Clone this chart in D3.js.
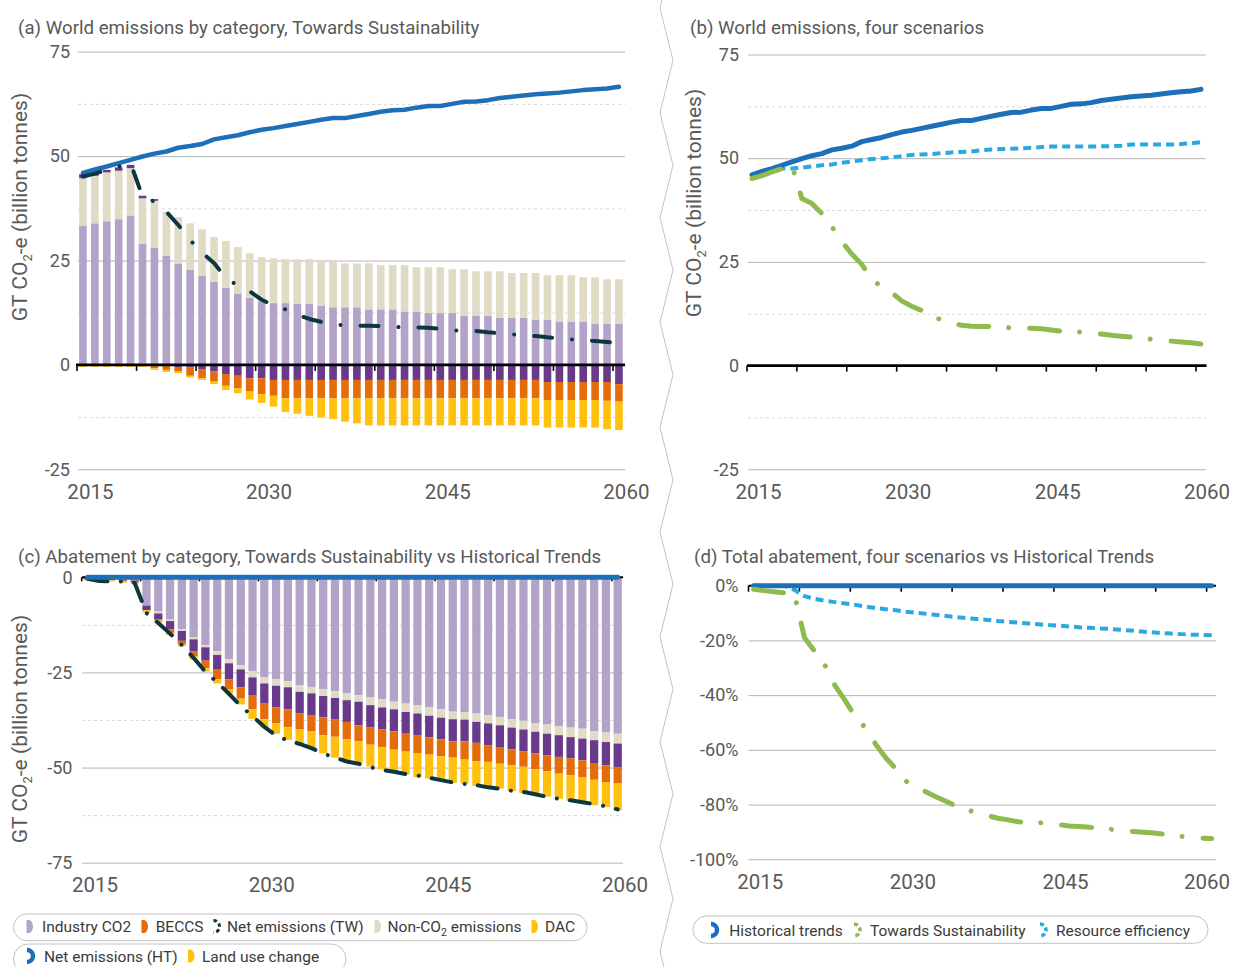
<!DOCTYPE html>
<html>
<head>
<meta charset="utf-8">
<script src="https://cdn.jsdelivr.net/npm/d3@7/dist/d3.min.js"></script>
<style>
html,body{margin:0;padding:0;background:#fff;}
svg{display:block;font-family:Roboto,"Noto Sans",Arial,sans-serif;}
</style>
</head>
<body>
<svg id="chart" width="1238" height="967"></svg>
<script>
// ---------------- categories & ticks ----------------
const years = d3.range(2015, 2061);
const xTickYears = [2015, 2020, 2025, 2030, 2035, 2040, 2045, 2050, 2055, 2060];
const xLabelYears = [2015, 2030, 2045, 2060];
const yTicksAB = [-25, 0, 25, 50, 75];
const yMinorAB = [-12.5, 12.5, 37.5, 62.5];
const yTicksC = [-75, -50, -25, 0];
const yMinorC = [-62.5, -37.5, -12.5];
const yTicksD = [-100, -80, -60, -40, -20, 0];

// ---------------- (a) Towards Sustainability by category (GT CO2-e) ----------------
const industryTW = [33.4,33.9,34.4,34.9,35.8,29.0,28.1,26.2,24.3,22.8,21.4,19.9,18.5,17.1,16.1,15.2,14.8,14.8,14.6,14.6,14.1,13.8,13.8,13.8,13.3,13.3,13.3,12.8,12.8,12.4,12.4,12.4,11.8,11.8,11.8,11.3,11.3,11.3,10.8,10.8,10.4,10.4,10.4,9.9,9.9,9.9];
const nonCO2TW = [11.3,11.4,11.7,11.6,11.3,10.9,11.2,10.5,11.1,11.1,11.1,10.7,11.2,11.1,10.6,10.6,10.7,10.5,10.7,10.7,10.6,10.9,10.5,10.5,11.0,10.6,10.6,11.1,10.6,11.0,11.0,10.5,11.1,10.6,10.6,11.1,10.7,10.7,11.2,10.7,11.1,11.1,10.6,11.1,10.6,10.6];
const landUseTW = [1.0,0.6,0.6,0.8,0.8,0.6,0.4,0.0,-0.5,-0.6,-1.0,-1.6,-2.2,-2.6,-3.2,-3.2,-3.6,-3.6,-3.6,-3.6,-3.6,-3.6,-3.6,-3.6,-3.6,-3.6,-3.6,-3.6,-3.6,-3.6,-3.6,-3.6,-3.6,-3.6,-3.6,-3.6,-3.6,-3.6,-3.6,-4.1,-4.1,-4.1,-4.1,-4.1,-4.1,-4.6];
const beccsTW = [-0.1,-0.1,-0.1,-0.1,-0.1,-0.1,-0.8,-1.2,-1.1,-2.0,-2.2,-2.4,-2.8,-3.0,-3.2,-3.8,-3.8,-4.4,-4.4,-4.4,-4.4,-4.4,-4.4,-4.4,-4.4,-4.4,-4.4,-4.4,-4.4,-4.4,-4.4,-4.4,-4.4,-4.4,-4.4,-4.4,-4.4,-4.4,-4.4,-4.3,-4.3,-4.3,-4.3,-4.3,-4.5,-4.2];
const dacTW = [-0.4,-0.4,-0.4,-0.4,-0.4,-0.4,-0.4,-0.5,-0.4,-0.4,-0.4,-0.6,-1.0,-1.2,-1.9,-2.1,-2.6,-3.3,-3.7,-4.2,-4.6,-5.0,-5.6,-6.0,-6.5,-6.5,-6.5,-6.5,-6.5,-6.5,-6.5,-6.5,-6.5,-6.5,-6.5,-6.5,-6.5,-6.5,-6.5,-6.6,-6.6,-6.6,-6.6,-6.6,-6.8,-6.8];

// ---------------- scenario net emissions (GT CO2-e) ----------------
const netTW = [45.1,45.8,46.7,47.5,48.3,40.3,39.1,36.7,33.5,29.9,26.9,24.4,20.8,19.0,17.6,15.6,14.3,13.3,12.0,11.0,10.3,9.7,9.5,9.4,9.4,9.3,9.1,9.0,9.0,8.9,8.6,8.3,8.2,8.1,7.8,7.6,7.3,7.1,6.9,6.6,6.4,6.1,5.9,5.7,5.5,5.2];
const netHT = [46.0,46.8,47.5,48.3,49.1,49.9,50.6,51.1,52.0,52.4,52.9,54.0,54.5,55.0,55.7,56.3,56.7,57.2,57.7,58.2,58.7,59.1,59.1,59.6,60.1,60.6,61.0,61.1,61.6,62.0,62.0,62.5,63.0,63.1,63.4,63.9,64.2,64.5,64.8,65.0,65.2,65.5,65.8,66.0,66.2,66.6];
const netRE = [46.0,46.3,47.0,47.5,47.5,47.7,48.0,48.3,48.5,48.9,49.2,49.5,49.8,50.0,50.2,50.5,50.8,50.9,51.0,51.2,51.4,51.5,51.6,51.9,52.1,52.2,52.3,52.4,52.5,52.7,52.8,52.8,52.8,52.8,52.8,52.9,52.9,53.0,53.3,53.3,53.3,53.3,53.3,53.4,53.6,53.9];

// ---------------- (c) abatement by category, TW vs HT (GT CO2-e) ----------------
const abIndustry = [-0.2,-0.3,-0.4,-0.5,-0.7,-7.3,-9.0,-11.1,-13.7,-15.8,-17.8,-19.4,-21.6,-23.1,-24.7,-26.3,-26.8,-27.3,-28.3,-28.8,-29.4,-29.9,-30.5,-31.0,-31.6,-32.1,-32.7,-33.2,-33.6,-34.2,-34.7,-35.3,-35.4,-35.8,-36.2,-36.7,-37.3,-37.7,-38.4,-38.7,-39.1,-39.5,-39.8,-40.4,-40.8,-41.1];
const abNonCO2 = [0,0,0,-0.1,-0.1,-0.1,-0.5,-0.4,-0.4,-0.5,-0.6,-1.0,-1.0,-1.1,-1.6,-1.6,-1.7,-1.6,-1.8,-1.7,-1.8,-1.8,-1.8,-1.7,-2.0,-2.1,-2.0,-2.2,-2.2,-2.2,-2.2,-2.0,-2.0,-2.2,-2.2,-2.2,-2.2,-2.3,-2.2,-2.4,-2.4,-2.5,-2.6,-2.4,-2.5,-2.6];
const abLandUse = [-0.2,-0.3,-0.3,-0.3,-0.4,-1.2,-1.5,-2.2,-2.6,-3.1,-3.5,-3.7,-4.2,-4.7,-4.8,-5.3,-5.7,-5.8,-5.7,-5.7,-5.6,-5.7,-5.7,-6.2,-5.9,-5.8,-5.8,-5.7,-5.8,-5.7,-5.7,-5.8,-5.7,-5.5,-5.7,-5.7,-5.7,-5.7,-5.7,-5.7,-5.7,-5.6,-5.7,-6.0,-6.1,-6.3];
const abBeccs = [-0.1,-0.1,-0.1,-0.2,-0.2,-0.1,-0.4,-0.9,-0.9,-1.3,-2.0,-2.7,-2.6,-3.0,-3.6,-4.1,-4.2,-4.7,-4.2,-4.2,-4.7,-4.5,-4.6,-4.2,-4.5,-4.7,-4.8,-4.7,-4.7,-4.5,-4.4,-4.3,-4.8,-4.8,-4.4,-4.4,-4.2,-4.1,-4.2,-4.2,-4.4,-4.4,-4.5,-4.4,-4.4,-4.2];
const abDac = [-0.3,-0.3,-0.3,-0.3,-0.3,-0.6,-0.5,-0.6,-0.5,-0.9,-0.9,-1.1,-1.1,-1.5,-2.5,-2.2,-2.7,-3.3,-3.7,-4.3,-4.8,-5.5,-5.5,-5.7,-5.7,-5.8,-5.9,-6.0,-6.2,-6.3,-6.3,-6.6,-6.3,-6.5,-6.8,-6.5,-6.8,-6.9,-6.5,-6.6,-6.6,-6.8,-6.7,-6.7,-6.6,-7.0];
const abNetTW = [-0.4,-1.0,-1.1,-1.1,-1.5,-9.4,-12.0,-14.8,-17.8,-21.2,-24.8,-27.6,-30.6,-33.8,-36.5,-39.3,-41.6,-42.9,-43.8,-44.9,-46.3,-47.4,-48.4,-49.0,-49.9,-50.6,-51.1,-51.7,-52.1,-52.7,-53.3,-53.9,-54.3,-54.6,-55.2,-55.6,-56.1,-56.4,-57.0,-57.7,-58.2,-58.6,-59.1,-59.6,-60.2,-61.0];
const abNetHT = [0,0,0,0,0,0,0,0,0,0,0,0,0,0,0,0,0,0,0,0,0,0,0,0,0,0,0,0,0,0,0,0,0,0,0,0,0,0,0,0,0,0,0,0,0,0];

// ---------------- (d) total abatement, % vs HT ----------------
const pctHT = [0,0,0,0,0,0,0,0,0,0,0,0,0,0,0,0,0,0,0,0,0,0,0,0,0,0,0,0,0,0,0,0,0,0,0,0,0,0,0,0,0,0,0,0,0,0];
const pctTW = [-1.3,-1.8,-2.2,-2.6,-3.0,-19.0,-24.0,-29.0,-36.5,-42.0,-48.0,-52.0,-58.0,-63.0,-67.0,-71.5,-73.5,-75.5,-77.3,-79.0,-80.8,-82.0,-83.0,-84.0,-85.0,-85.6,-86.3,-86.5,-86.6,-87.0,-87.4,-87.8,-88.0,-88.3,-88.6,-89.0,-89.4,-89.8,-90.0,-90.3,-90.7,-91.2,-91.6,-92.0,-92.3,-92.4];
const pctRE = [0,0,0,0,-1.5,-3.8,-4.8,-5.5,-6.0,-6.5,-7.0,-7.6,-8.2,-8.6,-9.0,-9.5,-9.9,-10.3,-10.7,-11.1,-11.5,-11.9,-12.2,-12.5,-12.9,-13.2,-13.5,-13.8,-14.1,-14.4,-14.6,-14.9,-15.2,-15.4,-15.6,-15.8,-16.1,-16.4,-16.7,-17.0,-17.3,-17.5,-17.7,-17.9,-18.0,-18.1];

// ---------------- styles ----------------
const C = {
  industry: "#b3a3c9", nonco2: "#dfdbc5", luc: "#69398c", beccs: "#e46c0b", dac: "#ffc10e",
  ht: "#1d6fb8", tw: "#8fbb4e", re: "#2aa9e0", net: "#0c3640",
  text: "#595959", grid: "#b4b4b4", minor: "#d9d9d9"
};
const stackKeys = ["industry", "nonco2", "luc", "beccs", "dac"];
const stackColors = [C.industry, C.nonco2, C.luc, C.beccs, C.dac];

const svg = d3.select("#chart");

function makePanel(cfg) {
  const x = d3.scaleBand().domain(years).range([cfg.x0, cfg.x1]);
  const y = d3.scaleLinear().domain(cfg.yDomain).range(cfg.yRange);
  const g = svg.append("g");
  if (cfg.minor.length) {
    g.append("g").attr("transform", `translate(${cfg.gx0},0)`)
      .call(d3.axisLeft(y).tickValues(cfg.minor).tickSize(-(cfg.gx1 - cfg.gx0)).tickFormat(""))
      .call(s => { s.select(".domain").remove();
        s.selectAll("line").attr("stroke", C.minor).attr("stroke-width", 1).attr("stroke-dasharray", "3,3"); });
  }
  g.append("g").attr("transform", `translate(${cfg.gx0},0)`)
    .call(d3.axisLeft(y).tickValues(cfg.major.filter(v => v !== 0)).tickSize(-(cfg.gx1 - cfg.gx0)).tickFormat(""))
    .call(s => { s.select(".domain").remove();
      s.selectAll("line").attr("stroke", C.grid).attr("stroke-width", 1); });
  // y labels
  g.append("g").attr("transform", `translate(${cfg.labelRight},0)`)
    .call(d3.axisLeft(y).tickValues(cfg.major).tickSize(0).tickPadding(0).tickFormat(cfg.fmt))
    .call(s => { s.select(".domain").remove();
      s.selectAll("text").attr("font-size", 18).attr("fill", C.text).attr("font-family", "Roboto"); });
  // x labels, centred on band end
  const bw = x.bandwidth();
  g.append("g").attr("transform", `translate(${bw / 2 + 1.5},${cfg.xLabelY})`)
    .call(d3.axisBottom(x).tickValues(xLabelYears).tickSize(0).tickPadding(0).tickFormat(d => String(d)))
    .call(s => { s.select(".domain").remove();
      s.selectAll("text").attr("font-size", 20.5).attr("fill", C.text).attr("font-family", "Roboto")
        .attr("dx", d => Math.min(0, 1207 - (x(d) + bw + 1.5))); });
  // title
  svg.append("text").attr("x", cfg.titleX).attr("y", cfg.titleY).attr("font-size", 18.7)
    .attr("fill", C.text).text(cfg.title);
  // y title
  if (cfg.yTitle) {
    const t = svg.append("text").attr("transform", `translate(${cfg.yTitle[0]},${cfg.yTitle[1]}) rotate(-90)`)
      .attr("text-anchor", "middle").attr("font-size", 21).attr("fill", C.text);
    t.append("tspan").text("GT CO");
    t.append("tspan").attr("font-size", 13).attr("dy", 5).text("2");
    t.append("tspan").attr("dy", -5).text("-e (billion tonnes)");
  }
  return { x, y, g, cfg };
}

function drawStack(p, rows, pad) {
  const series = d3.stack().keys(stackKeys).offset(d3.stackOffsetDiverging)(rows);
  const bw = p.x.bandwidth(), w = bw * (1 - pad);
  p.g.append("g").selectAll("g").data(series).join("g").attr("fill", (d, i) => stackColors[i])
    .selectAll("rect").data(d => d).join("rect")
    .attr("x", d => p.x(d.data.year) + (bw - w) / 2)
    .attr("y", d => p.y(Math.max(d[0], d[1])))
    .attr("width", w)
    .attr("height", d => Math.abs(p.y(d[0]) - p.y(d[1])));
}

function drawZero(p, x0, x1, lw, tick) {
  const gz = p.g.append("g").attr("transform", `translate(${-p.x.bandwidth() / 2},${p.y(0)})`)
    .call(d3.axisBottom(p.x).tickValues(xTickYears).tickSize(tick).tickFormat(""));
  gz.select(".domain").remove();
  gz.selectAll("line").attr("stroke", "#000").attr("stroke-width", 1.6);
  p.g.append("line").attr("x1", x0).attr("x2", x1).attr("y1", p.y(0)).attr("y2", p.y(0))
    .attr("stroke", "#000").attr("stroke-width", lw);
}

function drawLine(p, values, color, width, dash, cap) {
  const bw = p.x.bandwidth();
  const line = d3.line().x((d, i) => p.x(years[i]) + bw / 2).y(d => p.y(d));
  p.g.append("path").datum(values).attr("d", line).attr("fill", "none")
    .attr("stroke", color).attr("stroke-width", width)
    .attr("stroke-linejoin", "round").attr("stroke-linecap", cap || "round")
    .attr("stroke-dasharray", dash || null);
}

// ---------------- Panel (a) ----------------
const pA = makePanel({ x0: 77, x1: 624.9, yDomain: [-25, 75], yRange: [469.3, 51.7], gx0: 78, gx1: 625,
  minor: yMinorAB, major: yTicksAB, labelRight: 70, fmt: d => String(d), xLabelY: 484.7,
  title: "(a) World emissions by category, Towards Sustainability", titleX: 18, titleY: 33.5, yTitle: [27, 207] });
const rowsA = years.map((yr, i) => ({ year: yr, industry: industryTW[i], nonco2: nonCO2TW[i], luc: landUseTW[i], beccs: beccsTW[i], dac: dacTW[i] }));
drawStack(pA, rowsA, 0.36);
drawZero(pA, 76, 625, 2.6, 6);
drawLine(pA, netHT, C.ht, 4.5);
drawLine(pA, netTW, C.net, 4, "18,20,0.01,20");

// ---------------- Panel (b) ----------------
const pB = makePanel({ x0: 747, x1: 1206, yDomain: [-25, 75], yRange: [469.3, 54.5], gx0: 748, gx1: 1206,
  minor: yMinorAB, major: yTicksAB, labelRight: 739, fmt: d => String(d), xLabelY: 484.4,
  title: "(b) World emissions, four scenarios", titleX: 690, titleY: 33.5, yTitle: [701, 203] });
drawZero(pB, 747, 1206.5, 2.6, 6);
drawLine(pB, netRE, C.re, 4, "8,5", "butt");
drawLine(pB, netHT, C.ht, 5);
drawLine(pB, netTW, C.tw, 5, "30,20,0.01,21");

// ---------------- Panel (c) ----------------
const pC = makePanel({ x0: 81.7, x1: 623.6, yDomain: [-75, 0], yRange: [862.7, 577.3], gx0: 82, gx1: 623,
  minor: yMinorC, major: yTicksC, labelRight: 72.5, fmt: d => String(d), xLabelY: 877.7,
  title: "(c) Abatement by category, Towards Sustainability vs Historical Trends", titleX: 18, titleY: 562.5, yTitle: [27, 729] });
const rowsC = years.map((yr, i) => ({ year: yr, industry: abIndustry[i], nonco2: abNonCO2[i], luc: abLandUse[i], beccs: abBeccs[i], dac: abDac[i] }));
drawStack(pC, rowsC, 0.3);
drawZero(pC, 82, 623, 2, 4);
drawLine(pC, abNetTW, C.net, 4, "20,13.5,0.01,13.2");
drawLine(pC, abNetHT, C.ht, 5);

// ---------------- Panel (d) ----------------
const pD = makePanel({ x0: 748.5, x1: 1216.8, yDomain: [-100, 0], yRange: [859.3, 585.7], gx0: 748.5, gx1: 1216,
  minor: [], major: yTicksD, labelRight: 738.5, fmt: d => d + "%", xLabelY: 874.4,
  title: "(d) Total abatement, four scenarios vs Historical Trends", titleX: 694, titleY: 562.5, yTitle: null });
drawZero(pD, 748.5, 1216, 2, 6);
drawLine(pD, pctRE, C.re, 4, "8,5", "butt");
drawLine(pD, pctHT, C.ht, 5);
drawLine(pD, pctTW, C.tw, 5, "30,20,0.01,21");

// ---------------- zigzag separator ----------------
const zz = [];
for (let k = -1; k < 11; k++) { zz.push([660, 8 + k * 104.8]); zz.push([673, 60.4 + k * 104.8]); }
svg.append("path").attr("d", d3.line()(zz)).attr("fill", "none").attr("stroke", "#c4c4c4").attr("stroke-width", 1);

// ---------------- legends ----------------
const lg = svg.append("g").attr("font-size", 15.5).attr("fill", "#3a3a3a");
function box(x, y, w, h) {
  lg.append("rect").attr("x", x).attr("y", y).attr("width", w).attr("height", h).attr("rx", h / 2)
    .attr("fill", "none").attr("stroke", "#c3c3c3").attr("stroke-width", 1);
}
function barIcon(x, cy, color) {
  lg.append("path").attr("d", `M${x},${cy - 6.5}h2.5a4,6.5 0 0 1 0,13h-2.5z`).attr("fill", color);
}
function arcIcon(x, cy, color, w, dash) {
  lg.append("path").attr("d", `M${x},${cy - 6}a6,6 0 0 1 0,12`).attr("fill", "none")
    .attr("stroke", color).attr("stroke-width", w).attr("stroke-dasharray", dash || null);
}
function label(x, base, parts) {
  const t = lg.append("text").attr("x", x).attr("y", base);
  parts.forEach(p => {
    const s = t.append("tspan").text(p.t);
    if (p.sub) s.attr("font-size", 10.5);
    if (p.dy) s.attr("dy", p.dy);
  });
}
box(13.5, 914, 573.5, 26.7);
box(13.5, 944, 332.5, 30);
box(693, 916, 515, 27.3);
// row 1
barIcon(26.5, 926.5, C.industry); label(42, 932.3, [{ t: "Industry CO2" }]);
barIcon(141.5, 926.5, C.beccs); label(155.7, 932.3, [{ t: "BECCS" }]);
arcIcon(213.5, 926.5, C.net, 3, "3.5,2.5"); label(227, 932.3, [{ t: "Net emissions (TW)" }]);
barIcon(374.5, 926.5, C.nonco2); label(387.5, 932.3, [{ t: "Non-CO" }, { t: "2", sub: true, dy: 4 }, { t: " emissions", dy: -4 }]);
barIcon(531.5, 926.5, C.dac); label(545, 932.3, [{ t: "DAC" }]);
// row 2
arcIcon(27, 956, C.ht, 4.5); label(44, 961.7, [{ t: "Net emissions (HT)" }]);
barIcon(188, 956, C.dac); label(202, 961.7, [{ t: "Land use change" }]);
// right legend
arcIcon(711, 930, C.ht, 4.5); label(729.3, 935.7, [{ t: "Historical trends" }]);
arcIcon(854, 930, C.tw, 3.5, "4,2.5"); label(870, 935.7, [{ t: "Towards Sustainability" }]);
arcIcon(1040, 930, C.re, 3.5, "4,2.5"); label(1056, 935.7, [{ t: "Resource efficiency" }]);
</script>
</body>
</html>
